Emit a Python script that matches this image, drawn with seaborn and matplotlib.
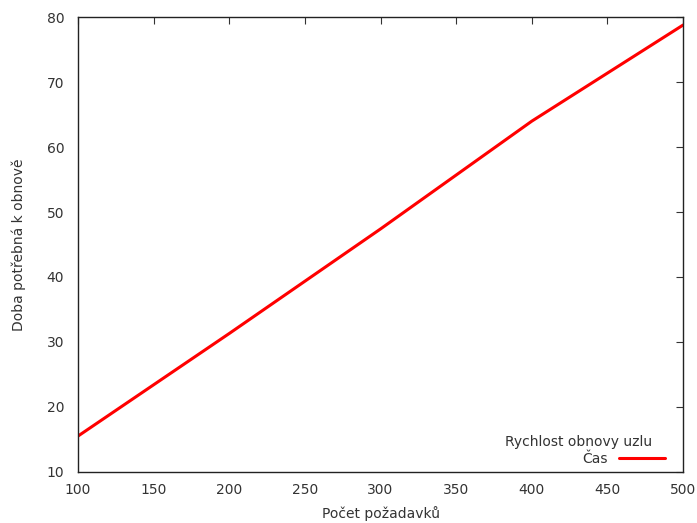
import pandas as pd
import numpy as np
import matplotlib
matplotlib.use('Agg')
import matplotlib.pyplot as plt
import seaborn as sns

# data
requests = [100, 200, 300, 400, 500]
times = [15.5, 31.3, 47.4, 64.0, 78.8]

df = pd.DataFrame({'Počet požadavků': requests, 'Čas': times})

sns.set_style('white')
plt.rcParams['font.family'] = ['DejaVu Sans']
plt.rcParams['text.color'] = '#333333'

fig, ax = plt.subplots(figsize=(6.97, 5.23), dpi=100)
fig.subplots_adjust(left=0.112, right=0.98, top=0.967, bottom=0.098)

sns.lineplot(data=df, x='Počet požadavků', y='Čas', ax=ax,
             color='red', linewidth=2.2, label='Čas')

ax.set_xlim(100, 500)
ax.set_ylim(10, 80)
ax.set_xticks(np.arange(100, 501, 50))
ax.set_yticks(np.arange(10, 81, 10))
ax.tick_params(direction='in', top=True, right=True, length=5,
               labelsize=10, colors='#333333', labelcolor='#333333')
ax.tick_params(axis='y', pad=10)
ax.tick_params(axis='x', pad=8)
for s in ax.spines.values():
    s.set_color('#222222')
    s.set_linewidth(1)

ax.set_xlabel('Počet požadavků', fontsize=10, color='#333333', labelpad=6.5)
ax.set_ylabel('Doba potřebná k obnově', fontsize=10, color='#333333', labelpad=15)

leg = ax.legend(title='Rychlost obnovy uzlu   ', loc='lower right', frameon=False,
                markerfirst=False, fontsize=10, title_fontsize=10,
                handlelength=3.3, handletextpad=0.8, labelspacing=0.2,
                borderaxespad=0, borderpad=0.2,
                bbox_to_anchor=(0.975, 0.007))
leg._legend_box.align = 'right'
leg._legend_box.sep = 2

fig.savefig('out.png', dpi=100)
